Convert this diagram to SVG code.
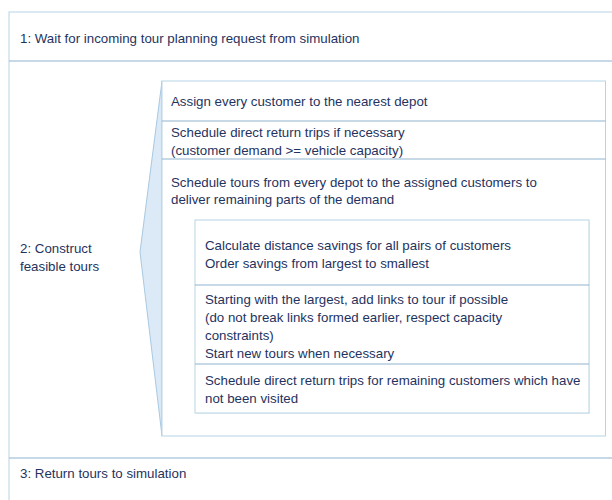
<svg xmlns="http://www.w3.org/2000/svg" width="612" height="500" viewBox="0 0 612 500">
<style>
text{font-family:"Liberation Sans","Noto Sans",sans-serif;font-size:13.3px;fill:#1f3360}
.frame{fill:#ffffff;stroke:#b7d3e6;stroke-width:1}
.sep{stroke:#8fb3cf;stroke-width:1}
.wedge{fill:#dce9f6;stroke:#a9c9e0;stroke-width:1}
</style>
<rect width="612" height="500" fill="#ffffff"/>
<g id="frame">
<rect class="frame" x="9" y="12" width="610" height="500"/>
<line class="sep" x1="9" y1="61" x2="612" y2="61"/>
<line class="sep" x1="9" y1="458" x2="612" y2="458"/>
</g>
<g id="step1"><text x="20" y="43">1: Wait for incoming tour planning request from simulation</text></g>
<g id="step2"><text x="20" y="253">2: Construct</text><text x="20" y="271">feasible tours</text></g>
<g id="connectors">
<polygon class="wedge" points="162,81 140,252 162,436"/>
</g>
<g id="sub">
<rect class="frame" x="162" y="81" width="443.5" height="355"/>
<line class="sep" x1="162" y1="121" x2="605.5" y2="121"/>
<line class="sep" x1="162" y1="159" x2="605.5" y2="159"/>
<text x="171" y="106">Assign every customer to the nearest depot</text>
<text x="171" y="137">Schedule direct return trips if necessary</text>
<text x="171" y="155">(customer demand &gt;= vehicle capacity)</text>
<text x="171" y="187">Schedule tours from every depot to the assigned customers to</text>
<text x="171" y="204">deliver remaining parts of the demand</text>
</g>
<g id="savings">
<rect x="196" y="221" width="394" height="193" fill="#e9f0f5" opacity="0.7"/>
<rect class="frame" x="195" y="220" width="394" height="193"/>
<line class="sep" x1="195" y1="285" x2="589" y2="285"/>
<line class="sep" x1="195" y1="364" x2="589" y2="364"/>
<text x="205" y="250">Calculate distance savings for all pairs of customers</text>
<text x="205" y="268">Order savings from largest to smallest</text>
<text x="205" y="304">Starting with the largest, add links to tour if possible</text>
<text x="205" y="322">(do not break links formed earlier, respect capacity</text>
<text x="205" y="340">constraints)</text>
<text x="205" y="358">Start new tours when necessary</text>
<text x="205" y="385">Schedule direct return trips for remaining customers which have</text>
<text x="205" y="403">not been visited</text>
</g>
<g id="step3"><text x="20" y="478">3: Return tours to simulation</text></g>
</svg>
